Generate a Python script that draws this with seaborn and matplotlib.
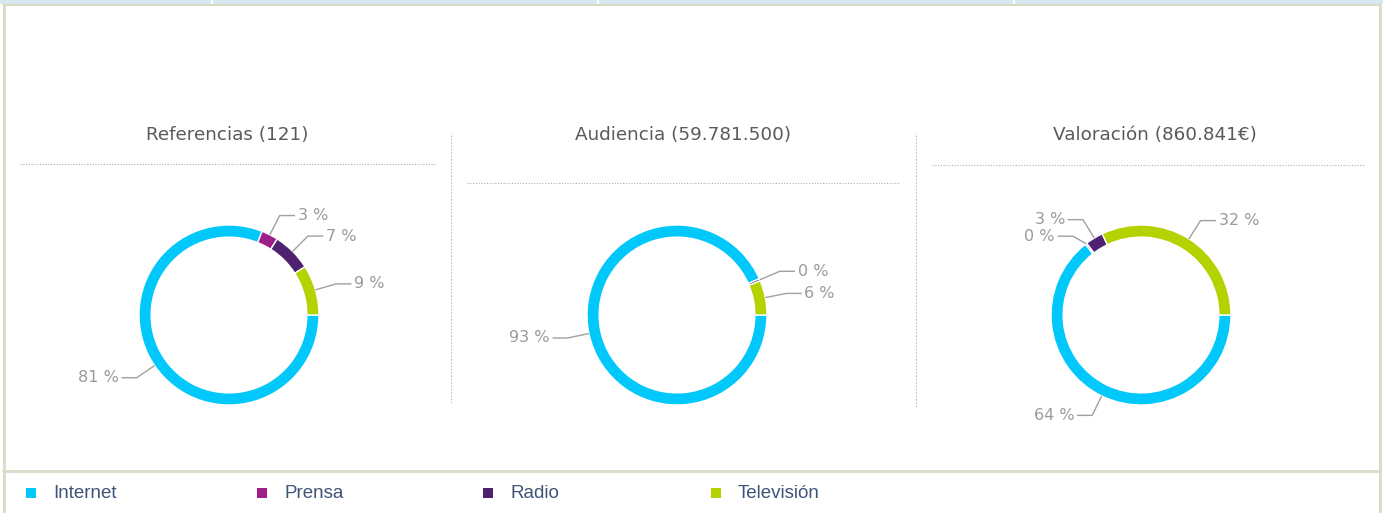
import numpy as np
import matplotlib
matplotlib.use("Agg")
import matplotlib.pyplot as plt
from matplotlib.patches import Rectangle
from matplotlib.lines import Line2D
import seaborn as sns

# ---------------- data ----------------
categories = ["Internet", "Prensa", "Radio", "Televisión"]
colors = ["#00c8fa", "#a01e8c", "#4e2271", "#b4d200"]

titles = ["Referencias (121)", "Audiencia (59.781.500)", "Valoración (860.841€)"]
referencias = [81, 3, 7, 9]
audiencia = [93.4, 0.0, 0.4, 6.2]
valoracion = [64.4, 0.3, 3.2, 32.1]
series = [referencias, audiencia, valoracion]

# ---------------- layout ----------------
sns.set_theme(style="white")
plt.rcParams["font.family"] = ["DejaVu Sans"]

W, H = 1383, 513
fig = plt.figure(figsize=(W / 100, H / 100), dpi=100)
fig.patch.set_facecolor("white")


def fx(x):
    return x / W


def fy(y):
    return 1 - y / H


def fline(xs, ys, **kw):
    fig.add_artist(Line2D([fx(v) for v in xs], [fy(v) for v in ys],
                          transform=fig.transFigure, **kw))


# top strip
fig.add_artist(Rectangle((0, fy(4)), 1, 4 / H, transform=fig.transFigure,
                         facecolor="#d6e9f0", edgecolor="none"))
for gx in [211, 597, 1013]:
    fig.add_artist(Rectangle((fx(gx), fy(4)), 2 / W, 4 / H, transform=fig.transFigure,
                             facecolor="white", edgecolor="none"))
frame_c = "#d9dbc8"
fline([3, 1380], [4.5, 4.5], color=frame_c, lw=1.5)
fline([3.5, 3.5], [4, 513], color=frame_c, lw=2)
fline([1380, 1380], [4, 513], color=frame_c, lw=2)
fline([3, 1380], [471, 471], color=frame_c, lw=2)

# titles, dotted rules, separators
title_pos = [(227, 135), (683, 135), (1155, 135)]
rules = [((20, 435), 164), ((467, 900), 183), ((932, 1364), 165)]
for t, (tx, ty) in zip(titles, title_pos):
    fig.text(fx(tx), fy(ty), t, ha="center", va="center", fontsize=13.2,
             color="#5a5a5a")
for (x0, x1), y in rules:
    fline([x0, x1], [y, y], color="#b0b0b0", lw=0.8, ls=(0, (1, 1.5)))
fline([451.5, 451.5], [135, 403], color="#c0c0c0", lw=0.8, ls=(0, (1.5, 1.5)))
fline([915.5, 915.5], [135, 407], color="#c0c0c0", lw=0.8, ls=(0, (1.5, 1.5)))

# donuts
centers = [(229, 315), (677, 315), (1141, 315)]
R = 90.0
HB = 200.0
lab_c = "#9a9a9a"
min_gap = 16.5 / R   # minimum vertical spacing between labels on one side
for vals, (cx, cy) in zip(series, centers):
    ax = fig.add_axes([fx(cx - HB), fy(cy + HB), 2 * HB / W, 2 * HB / H])
    lim = HB / R
    wedges, _ = ax.pie(vals, colors=colors, startangle=0, counterclock=False,
                       radius=1.0, wedgeprops=dict(width=0.135, edgecolor="white", lw=1))
    ax.set_xlim(-lim, lim)
    ax.set_ylim(-lim, lim)
    ax.set_aspect("equal")
    ax.axis("off")
    labels = []
    for w, v in zip(wedges, vals):
        if v <= 0:
            continue
        a = np.deg2rad((w.theta1 + w.theta2) / 2)
        labels.append(dict(a=a, v=v, s=1 if np.cos(a) >= 0 else -1,
                           y=1.24 * np.sin(a)))
    # resolve overlaps per side (push lower label downward)
    for side in (1, -1):
        grp = sorted([l for l in labels if l["s"] == side], key=lambda l: -l["y"])
        for i in range(1, len(grp)):
            if grp[i - 1]["y"] - grp[i]["y"] < min_gap:
                grp[i]["y"] = grp[i - 1]["y"] - min_gap
    for l in labels:
        a, s = l["a"], l["s"]
        x0, y0 = np.cos(a), np.sin(a)
        x1, y1 = 1.24 * np.cos(a), l["y"]
        x2 = x1 + s * 0.17
        ax.plot([x0, x1, x2], [y0, y1, y1], color="#a0a0a0", lw=1,
                solid_capstyle="butt", clip_on=False)
        ax.text(x2 + s * 0.03, y1, f"{round(l['v'])} %", ha="left" if s > 0 else "right",
                va="center", fontsize=11.5, color=lab_c, clip_on=False)

# legend
leg_x = [26, 257, 483, 711]
for lab, c, lx in zip(categories, colors, leg_x):
    fig.add_artist(Rectangle((fx(lx), fy(498)), 10 / W, 10 / H, transform=fig.transFigure,
                             facecolor=c, edgecolor="none"))
    fig.text(fx(lx + 27), fy(494), lab, ha="left", va="center", fontsize=13.5,
             color="#3f5478", family=["Liberation Sans Narrow", "Liberation Sans"])

fig.savefig("out.png", dpi=100, facecolor="white")
